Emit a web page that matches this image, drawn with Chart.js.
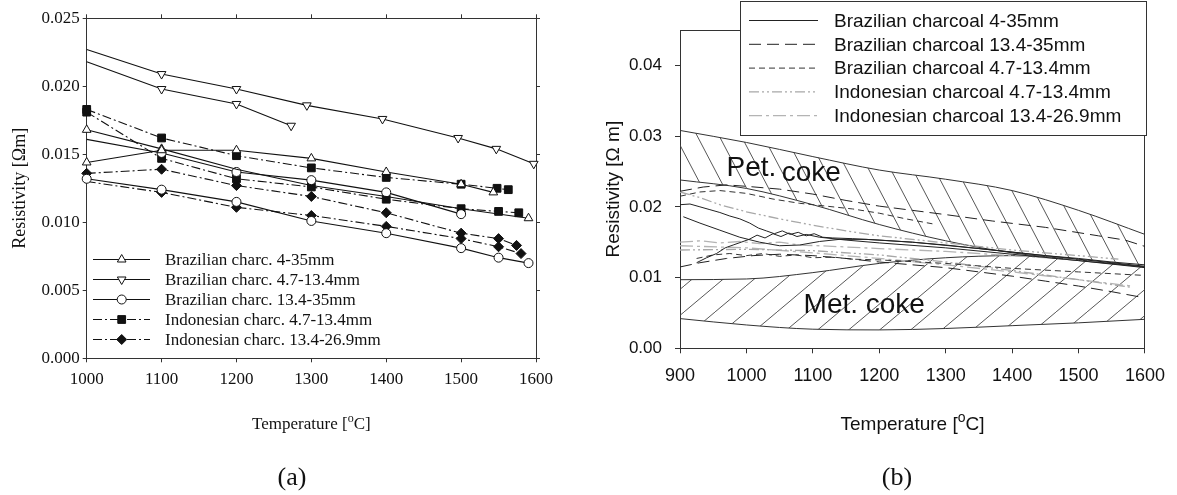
<!DOCTYPE html>
<html>
<head>
<meta charset="utf-8">
<title>Resistivity vs temperature</title>
<script src="https://cdn.jsdelivr.net/npm/chart.js@4.4.1/dist/chart.umd.min.js"></script>
<style>
  html, body { margin: 0; padding: 0; background: #fff; }
  #page { position: relative; width: 1177px; height: 495px; overflow: hidden; }
  canvas { position: absolute; top: 0; }
  #chartA { left: 0; }
  #chartB { left: 560px; }
  .caption { position: absolute; top: 461px; width: 80px; text-align: center;
             font: 26px "Liberation Serif", serif; line-height: 32px; color: #111; }
</style>
</head>
<body>
<div id="page">
  <canvas id="chartA" width="560" height="495"></canvas>
  <canvas id="chartB" width="617" height="495"></canvas>
  <div class="caption" style="left:252px">(a)</div>
  <div class="caption" style="left:857px">(b)</div>
</div>
<script>
const aTicksX = [1000, 1100, 1200, 1300, 1400, 1500, 1600];
const aTicksY = [0, 0.005, 0.010, 0.015, 0.020, 0.025];
const aSeriesNames = [
  'Brazilian charc. 4-35mm',
  'Brazilian charc. 4.7-13.4mm',
  'Brazilian charc. 13.4-35mm',
  'Indonesian charc. 4.7-13.4mm',
  'Indonesian charc. 13.4-26.9mm'
];

// Brazilian charc. 4-35mm (two runs)
const aTri1T = [1000, 1100, 1200, 1300, 1400, 1500, 1543];
const aTri1R = [0.0144, 0.0153, 0.0153, 0.0147, 0.0137, 0.0128, 0.0122];
const aTri2T = [1000, 1100, 1200, 1300, 1400, 1500, 1590];
const aTri2R = [0.0168, 0.0154, 0.0139, 0.0127, 0.0119, 0.0110, 0.0103];
// Brazilian charc. 4.7-13.4mm (two runs)
const aInv1T = [1000, 1100, 1200, 1294, 1395, 1496, 1547, 1597];
const aInv1R = [0.0227, 0.0209, 0.0198, 0.0186, 0.0176, 0.0162, 0.0154, 0.0143];
const aInv2T = [1000, 1100, 1200, 1273];
const aInv2R = [0.0218, 0.0198, 0.0187, 0.0171];
// Brazilian charc. 13.4-35mm (two runs)
const aCir1T = [1000, 1100, 1200, 1300, 1400, 1500, 1550, 1590];
const aCir1R = [0.0132, 0.0124, 0.0115, 0.0101, 0.0092, 0.0081, 0.0074, 0.0070];
const aCir2T = [1000, 1100, 1200, 1300, 1400, 1500];
const aCir2R = [0.0161, 0.0151, 0.0137, 0.0131, 0.0122, 0.0106];
// Indonesian charc. 4.7-13.4mm (two runs)
const aSq1T = [1000, 1100, 1200, 1300, 1400, 1500, 1548, 1563];
const aSq1R = [0.0183, 0.0162, 0.0149, 0.0140, 0.0133, 0.0128, 0.0125, 0.0124];
const aSq2T = [1000, 1100, 1200, 1300, 1400, 1500, 1550, 1577];
const aSq2R = [0.0181, 0.0147, 0.0132, 0.0126, 0.0117, 0.0110, 0.0108, 0.0107];
// Indonesian charc. 13.4-26.9mm (two runs)
const aDia1T = [1000, 1100, 1200, 1300, 1400, 1500, 1550, 1574];
const aDia1R = [0.0136, 0.0139, 0.0127, 0.0119, 0.0107, 0.0092, 0.0088, 0.0083];
const aDia2T = [1000, 1100, 1200, 1300, 1400, 1500, 1550, 1580];
const aDia2R = [0.0130, 0.0122, 0.0111, 0.0105, 0.0097, 0.0088, 0.0082, 0.0077];

// ---------- (b) curves and bands ----------
const bTicksX = [900, 1000, 1100, 1200, 1300, 1400, 1500, 1600];
const bTicksY = [0, 0.01, 0.02, 0.03, 0.04];
const bSeriesNames = [
  'Brazilian charcoal 4-35mm',
  'Brazilian charcoal 13.4-35mm',
  'Brazilian charcoal 4.7-13.4mm',
  'Indonesian charcoal 4.7-13.4mm',
  'Indonesian charcoal 13.4-26.9mm'
];
const bBandT = [900, 1000, 1100, 1200, 1300, 1400, 1500, 1600];
const petTop = [0.0308, 0.0291, 0.0271, 0.0252, 0.0239, 0.0223, 0.0195, 0.0161];
const petLow = [0.0238, 0.0226, 0.0203, 0.0175, 0.0152, 0.0135, 0.0125, 0.0115];
const metTop = [0.0097, 0.0098, 0.0107, 0.0120, 0.0128, 0.0131, 0.0124, 0.0115];
const metLow = [0.0042, 0.0033, 0.0027, 0.0026, 0.0028, 0.0032, 0.0036, 0.0041];

// Brazilian charcoal 4-35mm (solid)
const bS1T = [900, 915, 930, 945, 960, 975, 990, 1005, 1018, 1030, 1042, 1054, 1066, 1078, 1090, 1102, 1115, 1130, 1160, 1200, 1250, 1300, 1350, 1400, 1450, 1500, 1550, 1600];
const bS1R = [0.0203, 0.0204, 0.0200, 0.0196, 0.0192, 0.0187, 0.0183, 0.0177, 0.0170, 0.0166, 0.0162, 0.0166, 0.0161, 0.0164, 0.0159, 0.0162, 0.0157, 0.0156, 0.0155, 0.0153, 0.0150, 0.0146, 0.0141, 0.0136, 0.0131, 0.0127, 0.0122, 0.0118];
const bS2T = [905, 930, 960, 990, 1020, 1050, 1080, 1110, 1140, 1180, 1250, 1350, 1450, 1550, 1600];
const bS2R = [0.0186, 0.0177, 0.0167, 0.0157, 0.0150, 0.0145, 0.0146, 0.0151, 0.0154, 0.0154, 0.0150, 0.0141, 0.0131, 0.0121, 0.0116];
const bS3T = [925, 940, 955, 968, 980, 992, 1004, 1016, 1028, 1040, 1052, 1064, 1076, 1090, 1110, 1150, 1200, 1300, 1400, 1500, 1600];
const bS3R = [0.0121, 0.0128, 0.0134, 0.0142, 0.0146, 0.0150, 0.0154, 0.0160, 0.0156, 0.0162, 0.0158, 0.0163, 0.0158, 0.0161, 0.0157, 0.0153, 0.0149, 0.0142, 0.0133, 0.0124, 0.0114];
// Brazilian charcoal 13.4-35mm (long dash)
const bL1T = [900, 935, 970, 1000, 1050, 1100, 1150, 1200, 1250, 1300, 1370, 1450, 1530, 1570, 1600];
const bL1R = [0.0222, 0.0228, 0.0231, 0.0229, 0.0225, 0.0218, 0.0209, 0.0201, 0.0195, 0.0189, 0.0180, 0.0171, 0.0159, 0.0153, 0.0144];
const bL2T = [900, 930, 970, 1010, 1050, 1100, 1150, 1200, 1300, 1400, 1450, 1500, 1550, 1590];
const bL2R = [0.0115, 0.0121, 0.0127, 0.0131, 0.0133, 0.0131, 0.0127, 0.0122, 0.0114, 0.0102, 0.0095, 0.0088, 0.0080, 0.0073];
// Brazilian charcoal 4.7-13.4mm (short dash)
const bM1T = [900, 930, 960, 1000, 1040, 1080, 1120, 1160, 1200, 1240, 1280];
const bM1R = [0.0215, 0.0221, 0.0223, 0.0219, 0.0211, 0.0205, 0.0201, 0.0197, 0.0191, 0.0183, 0.0176];
const bM2T = [925, 950, 975, 1000, 1025, 1050, 1075, 1100, 1130, 1160, 1200, 1300, 1400, 1500, 1600];
const bM2R = [0.0127, 0.0132, 0.0134, 0.0131, 0.0134, 0.0130, 0.0132, 0.0128, 0.0129, 0.0126, 0.0125, 0.0120, 0.0113, 0.0108, 0.0103];
// Indonesian charcoal 4.7-13.4mm (grey dash-dot-dot)
const bG1T = [900, 930, 960, 1000, 1050, 1100, 1150, 1200, 1300, 1400, 1500, 1560];
const bG1R = [0.0221, 0.0213, 0.0203, 0.0193, 0.0183, 0.0174, 0.0166, 0.0159, 0.0149, 0.0139, 0.0131, 0.0126];
const bG2T = [900, 1000, 1100, 1200, 1300, 1400, 1500, 1580];
const bG2R = [0.0139, 0.0140, 0.0138, 0.0132, 0.0122, 0.0110, 0.0097, 0.0086];
// Indonesian charcoal 13.4-26.9mm (grey dash-dot)
const bH1T = [900, 930, 960, 990, 1020, 1050, 1080, 1110, 1200, 1300, 1400, 1500, 1560];
const bH1R = [0.0150, 0.0152, 0.0149, 0.0151, 0.0148, 0.0150, 0.0146, 0.0145, 0.0141, 0.0137, 0.0131, 0.0125, 0.0121];
const bH2T = [900, 1000, 1100, 1200, 1300, 1400, 1500, 1580];
const bH2R = [0.0145, 0.0142, 0.0135, 0.0127, 0.0118, 0.0108, 0.0097, 0.0088];

// ---------- styling ----------
const INK = '#111';
const AXIS = '#333';
const SERIF = '"Liberation Serif", "Times New Roman", serif';
const SANS = '"Liberation Sans", Arial, sans-serif';

const TRI = { style: 'triangle', r: 5, fill: '#fff' };
const INV = { style: 'triangle', r: 5, rot: 180, fill: '#fff' };
const CIR = { style: 'circle', r: 4.5, fill: '#fff' };
const SQR = { style: 'rect', r: 5.5, fill: INK };
const DIA = { style: 'rectRot', r: 5, fill: INK };
const DASHDOT = [9, 3, 2, 3];

const pts = (t, r) => t.map((x, i) => ({ x: x, y: r[i] }));
const pinTicks = list => scale => { scale.ticks = list.map(v => ({ value: v })); };
const fixSize = (key, px) => scale => { scale[key] = px; };

function aSet(t, r, mark, dash, bare) {
  bare = bare || [];
  return {
    data: pts(t, r), xAxisID: 'x', yAxisID: 'y',
    borderColor: INK, borderWidth: 1.1, borderDash: dash, tension: 0, clip: false,
    pointStyle: mark.style, pointRotation: mark.rot || 0,
    pointRadius: t.map((_, i) => bare.includes(i) ? 0 : mark.r),
    pointBackgroundColor: mark.fill, pointBorderColor: INK, pointBorderWidth: 1
  };
}

function bSet(t, r, look) {
  return Object.assign({
    data: pts(t, r), xAxisID: 'x', yAxisID: 'y',
    pointRadius: 0, tension: 0, fill: false, borderWidth: 1, order: 1
  }, look);
}

// diagonal hatching tile; dir > 0 gives "\" lines, dir < 0 gives "/"
function hatch(w, h, dir) {
  const c = document.createElement('canvas');
  c.width = w; c.height = h;
  const g = c.getContext('2d');
  g.strokeStyle = '#444';
  g.lineWidth = 0.9;
  [-w, 0, w].forEach(off => {
    g.beginPath();
    if (dir > 0) { g.moveTo(off, 0); g.lineTo(off + w, h); }
    else { g.moveTo(off, h); g.lineTo(off + w, 0); }
    g.stroke();
  });
  return g.createPattern(c, 'repeat');
}

// "Temperature [oC]" with a raised o
function drawTempTitle(chart, cy, family, size) {
  const ctx = chart.ctx, area = chart.chartArea;
  const cx = (area.left + area.right) / 2;
  const big = size + 'px ' + family, small = Math.round(size * 0.72) + 'px ' + family;
  ctx.save();
  ctx.fillStyle = INK;
  ctx.textAlign = 'left';
  ctx.textBaseline = 'alphabetic';
  ctx.font = big;
  const w1 = ctx.measureText('Temperature [').width, w3 = ctx.measureText('C]').width;
  ctx.font = small;
  const w2 = ctx.measureText('o').width;
  let x = cx - (w1 + w2 + w3) / 2;
  const base = cy + size * 0.35;
  ctx.font = big; ctx.fillText('Temperature [', x, base); x += w1;
  ctx.font = small; ctx.fillText('o', x, base - size * 0.42); x += w2;
  ctx.font = big; ctx.fillText('C]', x, base);
  ctx.restore();
}

function drawMark(ctx, mark, x, y) {
  ctx.fillStyle = mark.fill;
  ctx.strokeStyle = INK;
  ctx.lineWidth = 1;
  Chart.helpers.drawPoint(ctx, { pointStyle: mark.style, radius: mark.r, rotation: mark.rot || 0, borderWidth: 1 }, x, y);
}

// ---------- chart (a) ----------
const aLegendLook = [
  { mark: TRI, dash: [] }, { mark: INV, dash: [] }, { mark: CIR, dash: [] },
  { mark: SQR, dash: DASHDOT }, { mark: DIA, dash: DASHDOT }
];

const legendA = {
  id: 'legendA',
  afterDraw(chart) {
    const ctx = chart.ctx;
    ctx.save();
    aLegendLook.forEach((look, i) => {
      const y = 259.5 + i * 20;
      ctx.strokeStyle = INK; ctx.lineWidth = 1.1; ctx.setLineDash(look.dash);
      ctx.beginPath(); ctx.moveTo(93, y); ctx.lineTo(150, y); ctx.stroke();
      ctx.setLineDash([]);
      drawMark(ctx, look.mark, 121.7, y);
      ctx.fillStyle = INK;
      ctx.font = '17px ' + SERIF;
      ctx.textBaseline = 'middle';
      ctx.textAlign = 'left';
      ctx.fillText(aSeriesNames[i], 165, y + 1);
    });
    ctx.restore();
  }
};
const titleA = { id: 'titleA', afterDraw(chart) { drawTempTitle(chart, 423, SERIF, 17); } };

new Chart(document.getElementById('chartA'), {
  type: 'line',
  data: {
    datasets: [
      aSet(aTri1T, aTri1R, TRI, []),
      aSet(aTri2T, aTri2R, TRI, [], [2, 3, 4, 5]),
      aSet(aInv1T, aInv1R, INV, [], [0]),
      aSet(aInv2T, aInv2R, INV, [], [0]),
      aSet(aCir1T, aCir1R, CIR, []),
      aSet(aCir2T, aCir2R, CIR, [], [0]),
      aSet(aSq1T, aSq1R, SQR, DASHDOT),
      aSet(aSq2T, aSq2R, SQR, DASHDOT),
      aSet(aDia1T, aDia1R, DIA, DASHDOT),
      aSet(aDia2T, aDia2R, DIA, DASHDOT, [0])
    ]
  },
  options: {
    responsive: false, animation: false, events: [],
    layout: { padding: 0 },
    plugins: { legend: { display: false }, tooltip: { enabled: false } },
    scales: {
      x: {
        type: 'linear', position: 'bottom', min: 1000, max: 1600,
        afterBuildTicks: pinTicks(aTicksX), afterFit: fixSize('height', 136.7),
        ticks: { color: INK, font: { family: SERIF, size: 17 }, padding: 7, maxRotation: 0, callback: v => String(v) },
        grid: { drawOnChartArea: false, tickLength: 4, color: AXIS },
        border: { color: AXIS }
      },
      xTop: {
        type: 'linear', position: 'top', min: 1000, max: 1600,
        afterBuildTicks: pinTicks(aTicksX), afterFit: fixSize('height', 18.3),
        ticks: { display: false },
        grid: { drawOnChartArea: false, tickLength: 4, color: AXIS },
        border: { color: AXIS }
      },
      y: {
        type: 'linear', position: 'left', min: 0, max: 0.025,
        afterBuildTicks: pinTicks(aTicksY), afterFit: fixSize('width', 86.7),
        ticks: { color: INK, font: { family: SERIF, size: 17 }, padding: 3, callback: v => v.toFixed(3) },
        grid: { drawOnChartArea: false, tickLength: 4, color: AXIS },
        border: { color: AXIS },
        title: { display: true, text: 'Resistivity [Ωm]', color: INK,
                 font: { family: SERIF, size: 18 }, padding: { top: 9, bottom: 0 } }
      },
      yRight: {
        type: 'linear', position: 'right', min: 0, max: 0.025,
        afterBuildTicks: pinTicks(aTicksY), afterFit: fixSize('width', 14),
        ticks: { display: false },
        grid: { drawOnChartArea: false, tickLength: 4, color: AXIS },
        border: { color: AXIS }
      }
    }
  },
  plugins: [legendA, titleA]
});

// ---------- chart (b) ----------
const LOOK_SOLID = { borderColor: '#222' };
const LOOK_LONG = { borderColor: '#222', borderDash: [12, 6] };
const LOOK_SHORT = { borderColor: '#333', borderDash: [6, 4] };
const LOOK_DDOT = { borderColor: '#a8a8a8', borderDash: [10, 3, 2, 3, 2, 3], borderWidth: 1.3 };
const LOOK_DDASH = { borderColor: '#b4b4b4', borderDash: [13, 4, 3, 4], borderWidth: 1.3 };
const bLegendLook = [LOOK_SOLID, LOOK_LONG, LOOK_SHORT, LOOK_DDOT, LOOK_DDASH];

const bRegionText = [
  { text: 'Pet.', t: 970, v: 0.0243 },
  { text: 'coke', t: 1053, v: 0.0236 },
  { text: 'Met. coke', t: 1086, v: 0.0050 }
];

const regionLabels = {
  id: 'regionLabels',
  afterDatasetsDraw(chart) {
    const sx = chart.scales.x, sy = chart.scales.y, ctx = chart.ctx;
    ctx.save();
    ctx.fillStyle = INK;
    ctx.font = '28px ' + SANS;
    ctx.textAlign = 'left';
    ctx.textBaseline = 'alphabetic';
    bRegionText.forEach(l => ctx.fillText(l.text, sx.getPixelForValue(l.t), sy.getPixelForValue(l.v)));
    ctx.restore();
  }
};

const legendB = {
  id: 'legendB',
  afterDraw(chart) {
    const ctx = chart.ctx;
    ctx.save();
    ctx.fillStyle = '#fff';
    ctx.fillRect(180, 1, 407, 135);
    ctx.strokeStyle = AXIS; ctx.lineWidth = 1;
    ctx.strokeRect(180.5, 1.5, 406, 134);
    bLegendLook.forEach((look, i) => {
      const y = 20.5 + i * 23.8;
      ctx.strokeStyle = look.borderColor;
      ctx.lineWidth = look.borderWidth || 1;
      ctx.setLineDash(look.borderDash || []);
      ctx.beginPath(); ctx.moveTo(189, y); ctx.lineTo(258, y); ctx.stroke();
      ctx.setLineDash([]);
      ctx.fillStyle = INK;
      ctx.font = '19px ' + SANS;
      ctx.textAlign = 'left';
      ctx.textBaseline = 'middle';
      ctx.fillText(bSeriesNames[i], 274, y + 1);
    });
    ctx.restore();
  }
};
const titleB = { id: 'titleB', afterDraw(chart) { drawTempTitle(chart, 423, SANS, 19); } };

const petHatch = hatch(22, 42, 1);
const metHatch = hatch(31, 26, -1);
const BAND = { borderColor: AXIS, cubicInterpolationMode: 'monotone', order: 5 };

new Chart(document.getElementById('chartB'), {
  type: 'line',
  data: {
    datasets: [
      bSet(bBandT, petTop, Object.assign({}, BAND, { fill: '+1', backgroundColor: petHatch })),
      bSet(bBandT, petLow, BAND),
      bSet(bBandT, metTop, Object.assign({}, BAND, { fill: '+1', backgroundColor: metHatch })),
      bSet(bBandT, metLow, BAND),
      bSet(bS1T, bS1R, LOOK_SOLID),
      bSet(bS2T, bS2R, LOOK_SOLID),
      bSet(bS3T, bS3R, LOOK_SOLID),
      bSet(bL1T, bL1R, LOOK_LONG),
      bSet(bL2T, bL2R, LOOK_LONG),
      bSet(bM1T, bM1R, LOOK_SHORT),
      bSet(bM2T, bM2R, LOOK_SHORT),
      bSet(bG1T, bG1R, LOOK_DDOT),
      bSet(bG2T, bG2R, LOOK_DDOT),
      bSet(bH1T, bH1R, LOOK_DDASH),
      bSet(bH2T, bH2R, LOOK_DDASH)
    ]
  },
  options: {
    responsive: false, animation: false, events: [],
    layout: { padding: 0 },
    plugins: { legend: { display: false }, tooltip: { enabled: false } },
    scales: {
      x: {
        type: 'linear', position: 'bottom', min: 900, max: 1600,
        afterBuildTicks: pinTicks(bTicksX), afterFit: fixSize('height', 146.7),
        ticks: { color: INK, font: { family: SANS, size: 18 }, padding: 12, maxRotation: 0, callback: v => String(v) },
        grid: { drawOnChartArea: false, tickLength: 5, color: AXIS },
        border: { color: AXIS }
      },
      xTop: {
        type: 'linear', position: 'top', min: 900, max: 1600,
        afterFit: fixSize('height', 30),
        ticks: { display: false }, grid: { display: false },
        border: { color: AXIS }
      },
      y: {
        type: 'linear', position: 'left', min: 0, max: 0.045,
        afterBuildTicks: pinTicks(bTicksY), afterFit: fixSize('width', 120),
        ticks: { color: INK, font: { family: SANS, size: 17 }, padding: 13, callback: v => v.toFixed(2) },
        grid: { drawOnChartArea: false, tickLength: 5, color: AXIS },
        border: { color: AXIS },
        title: { display: true, text: 'Resistivity [Ω m]', color: INK,
                 font: { family: SANS, size: 19 }, padding: { top: 42, bottom: 0 } }
      },
      yRight: {
        type: 'linear', position: 'right', min: 0, max: 0.045,
        afterFit: fixSize('width', 30),
        ticks: { display: false }, grid: { display: false },
        border: { color: AXIS }
      }
    }
  },
  plugins: [regionLabels, legendB, titleB]
});
</script>
</body>
</html>
